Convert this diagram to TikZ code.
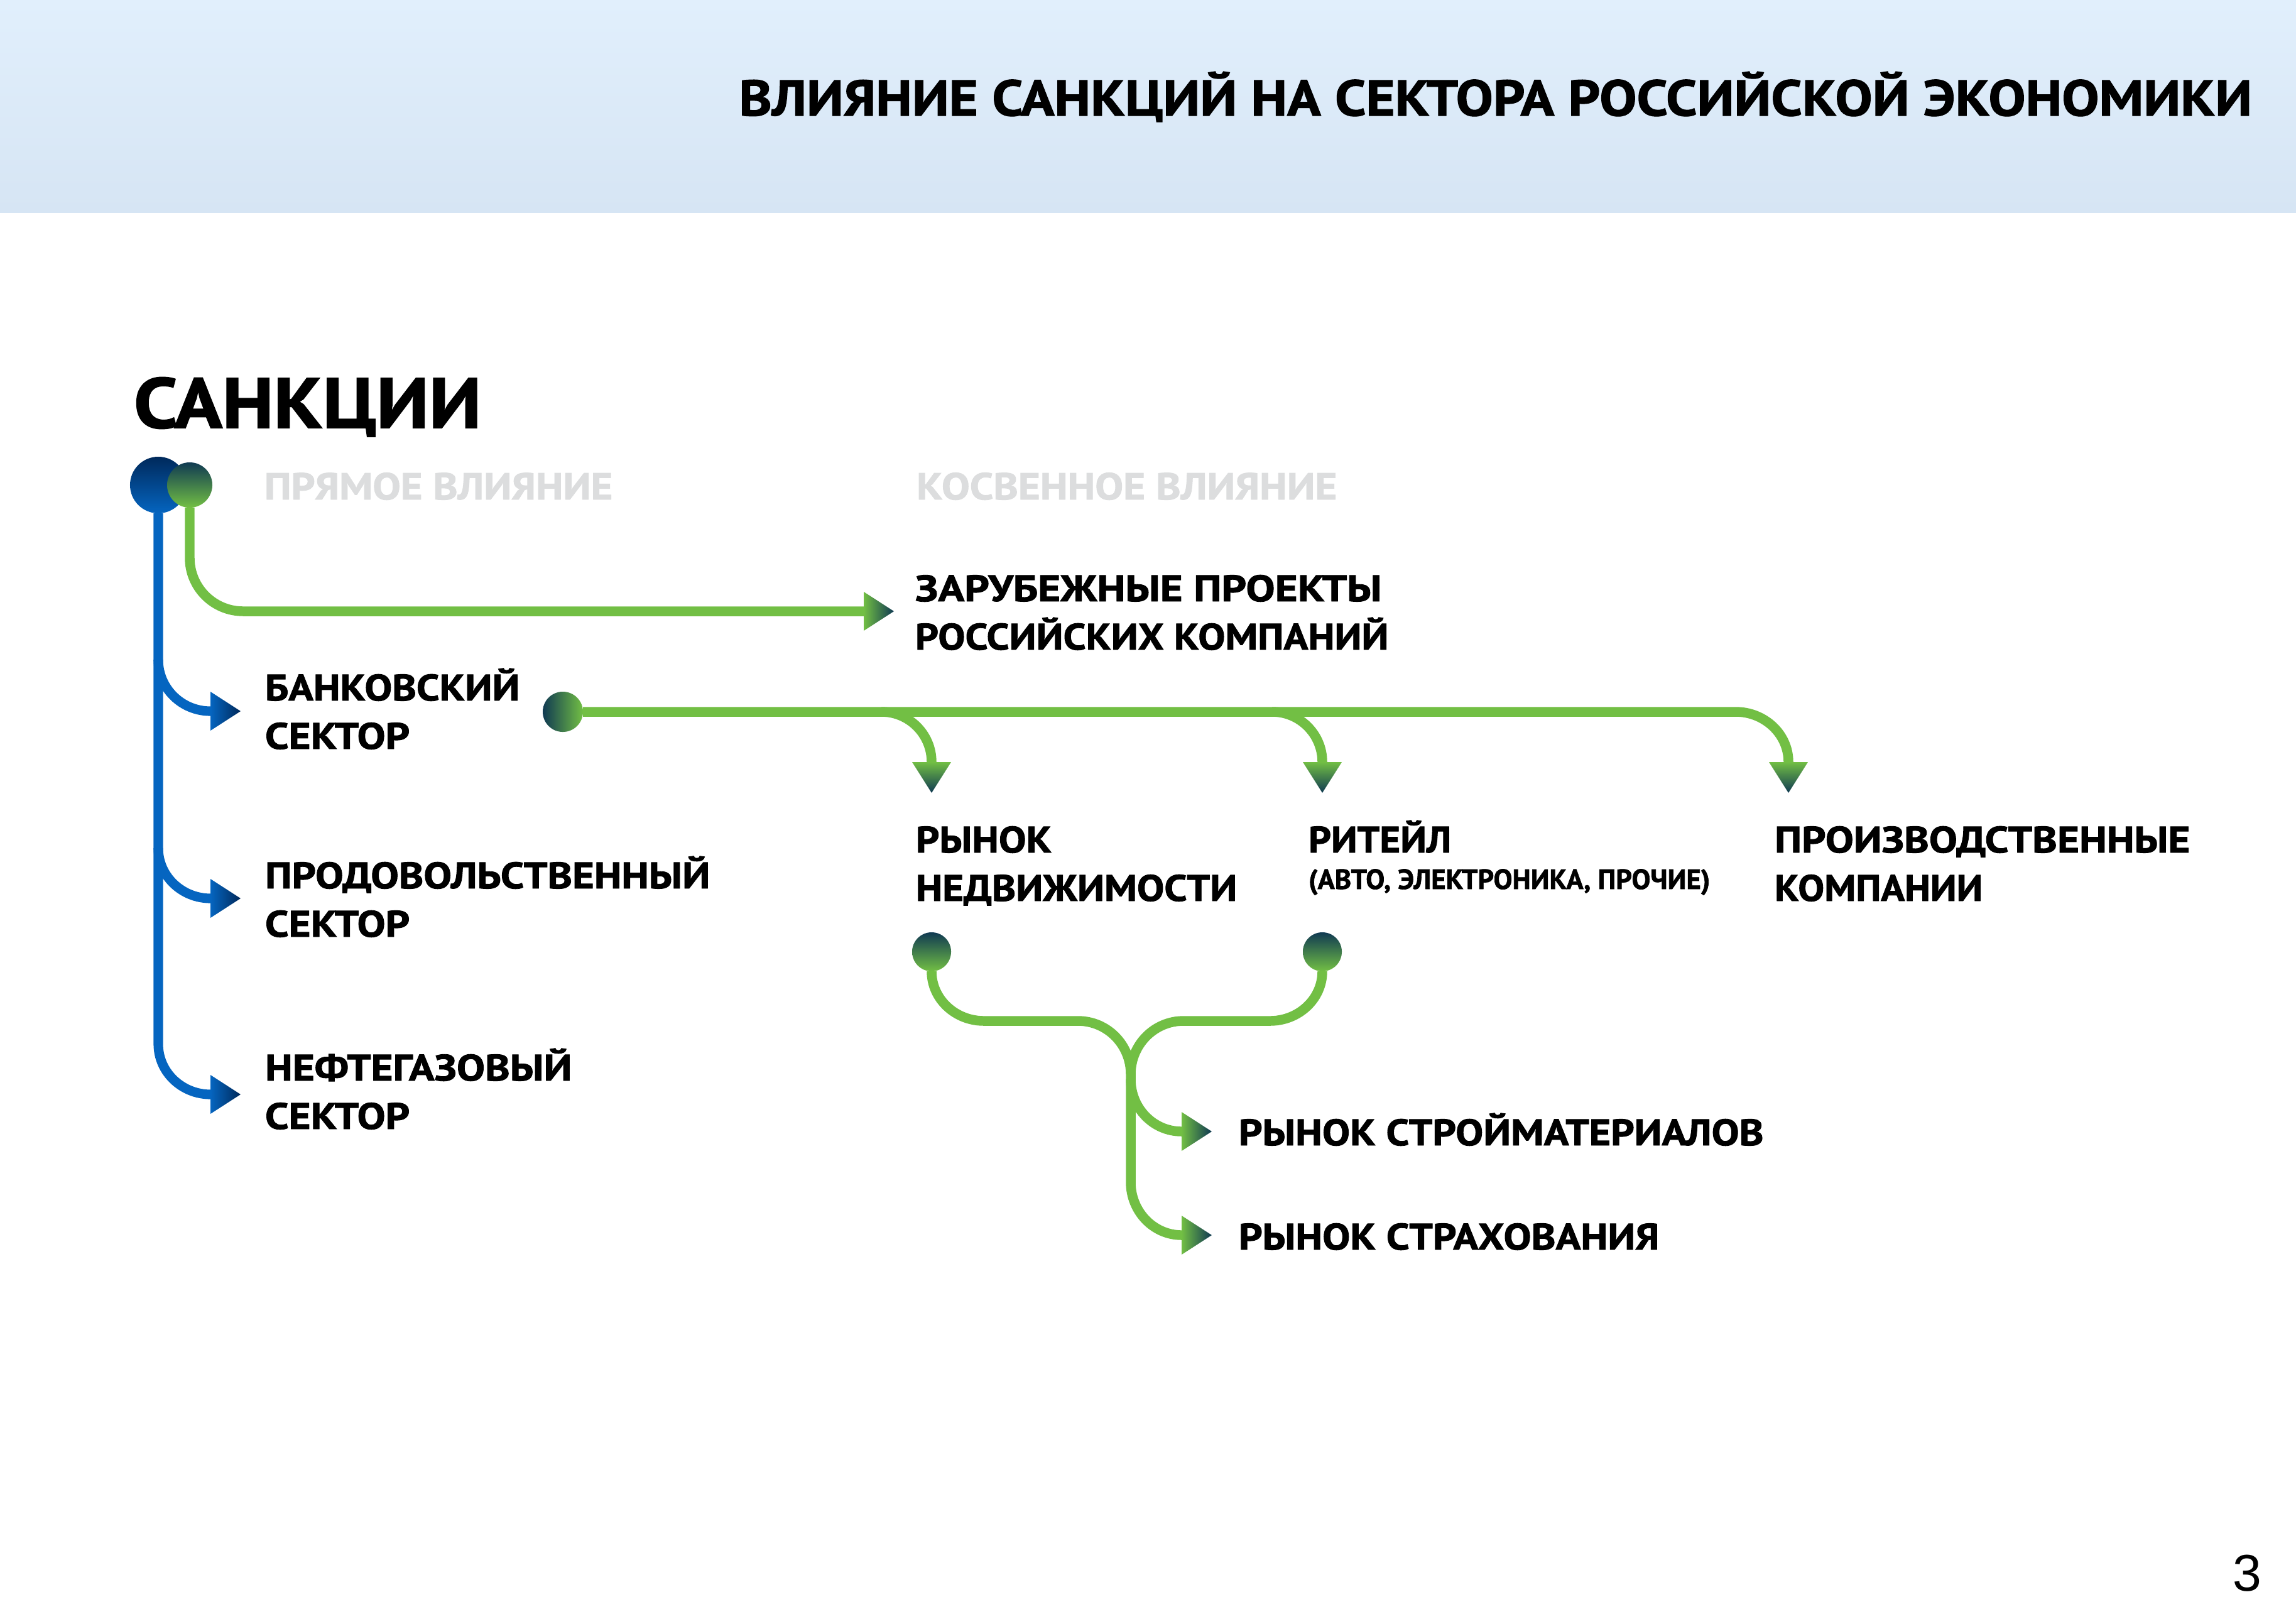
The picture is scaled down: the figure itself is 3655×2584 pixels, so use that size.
\documentclass[tikz,border=0pt]{standalone}
\usepackage{fontspec}
\setmainfont{PT Sans}[BoldFeatures={FakeBold=1.5}]
\newfontfamily\numfont{Liberation Sans}
\usepackage{graphicx}
\definecolor{gr}{HTML}{72BF44}
\definecolor{dk}{HTML}{103A52}
\definecolor{bl}{HTML}{0565C0}
\definecolor{nv}{HTML}{00295B}
\definecolor{gy}{HTML}{DCDDDE}
\definecolor{hTop}{HTML}{E1EFFC}
\definecolor{hBot}{HTML}{D6E5F4}
\newsavebox\fitbox
\newcommand\fitw[2]{\sbox\fitbox{#2}\edef\fitwd{\the\wd\fitbox}\pgfmathsetmacro\fsx{#1*0.284528/\fitwd}\scalebox{\fsx}[1]{\usebox\fitbox}}
\newcommand\twol[4]{\vtop{\baselineskip=21.9pt\lineskiplimit=-100pt\lineskip=0pt\hbox{\fitw{#1}{#2}}\hbox{\fitw{#3}{#4}}}}
\newcommand\arrR[3]{\shade[left color=#2,right color=#3] (#1) ++(0,-31) -- ++(48,31) -- ++(-48,31) -- cycle;}
\newcommand\arrD[1]{\shade[top color=gr,bottom color=dk] (#1) ++(-31,0) -- ++(31,49) -- ++(31,-49) -- cycle;}
\tikzset{
  lbl/.style={anchor=base west, inner sep=0pt, outer sep=0pt, font=\bfseries\fontsize{16.7}{20}\selectfont},
  glbl/.style={lbl, text=gy, font=\bfseries\fontsize{17}{20}\selectfont},
  gline/.style={draw=gr, line width=4.4pt},
  bline/.style={draw=bl, line width=4.3pt},
  dot/.style={circle, inner sep=0pt, outer sep=0pt},
}
\begin{document}
\begin{tikzpicture}[x=0.01cm, y=-0.01cm]
\useasboundingbox (0,0) rectangle (3655,2584);
\fill[white] (0,0) rectangle (3655,2584);
\shade[top color=hTop, bottom color=hBot] (0,0) rectangle (3655,338);
\node[lbl, anchor=base east, font=\bfseries\fontsize{22.8}{26}\selectfont] (title) at (3585,184) {\fitw{2407}{ВЛИЯНИЕ САНКЦИЙ НА СЕКТОРА РОССИЙСКОЙ ЭКОНОМИКИ}};
\node[lbl, font=\bfseries\fontsize{32.1}{36}\selectfont] (sank) at (213,681) {\fitw{553}{САНКЦИИ}};
\node[glbl] (direct) at (421,795) {\fitw{554}{ПРЯМОЕ ВЛИЯНИЕ}};
\node[glbl] (indirect) at (1459,795) {\fitw{669}{КОСВЕННОЕ ВЛИЯНИЕ}};

% circles
\node[dot, minimum size=0.9cm, top color=nv, bottom color=bl] (bC0) at (252,772) {};
\node[dot, minimum size=0.72cm, top color=dk, bottom color=gr] (gC) at (302,772) {};
\node[dot, minimum size=0.64cm, left color=dk, right color=gr] (bkC) at (896,1133) {};
\node[dot, minimum size=0.62cm, top color=dk, bottom color=gr] (c1) at (1483,1515) {};
\node[dot, minimum size=0.62cm, top color=dk, bottom color=gr] (c2) at (2105,1515) {};

% arrow anchors
\coordinate (aZ) at (1375,973);
\coordinate (aB) at (335,1132);
\coordinate (aP) at (335,1430);
\coordinate (aN) at (335,1742);
\coordinate (aR) at (1483,1213);
\coordinate (aT) at (2105,1213);
\coordinate (aK) at (2847,1213);
\coordinate (aS1) at (1881,1801);
\coordinate (aS2) at (1881,1966);

% blue connectors
\draw[bline] (bC0.south) -- (252,1662) to[out=-90,in=180] (aN);
\draw[bline] (252,1050) to[out=-90,in=180] (aB);
\draw[bline] (252,1350) to[out=-90,in=180] (aP);
\arrR{aB}{bl}{nv}
\arrR{aP}{bl}{nv}
\arrR{aN}{bl}{nv}

% green connectors
\draw[gline] (gC.south) -- (302,888) to[out=-90,in=180] (387,973) -- (aZ);
\arrR{aZ}{gr}{dk}
\draw[gline] (bkC.east) -- (2763,1133) to[out=0,in=90] (aK);
\draw[gline] (1403,1133) to[out=0,in=90] (aR);
\draw[gline] (2025,1133) to[out=0,in=90] (aT);
\arrD{aR}
\arrD{aT}
\arrD{aK}

\draw[gline] (c1.south) to[out=-90,in=180] (1566,1625) -- (1716,1625) to[out=0,in=90] (1800,1710) -- (1800,1882) to[out=-90,in=180] (aS2);
\draw[gline] (c2.south) to[out=-90,in=0] (2022,1625) -- (1884,1625) to[out=180,in=90] (1800,1710);
\draw[gline] (1800,1718) to[out=-90,in=180] (aS1);
\arrR{aS1}{gr}{dk}
\arrR{aS2}{gr}{dk}

% labels
\node[lbl] (zar) at (1457,957) {\twol{742}{ЗАРУБЕЖНЫЕ ПРОЕКТЫ}{753}{РОССИЙСКИХ КОМПАНИЙ}};
\node[lbl] (bank) at (422,1115) {\twol{405}{БАНКОВСКИЙ}{230}{СЕКТОР}};
\node[lbl] (food) at (422,1414) {\twol{708}{ПРОДОВОЛЬСТВЕННЫЙ}{230}{СЕКТОР}};
\node[lbl] (oil) at (422,1720) {\twol{488}{НЕФТЕГАЗОВЫЙ}{230}{СЕКТОР}};
\node[lbl] (real) at (1458,1357) {\twol{216}{РЫНОК}{511}{НЕДВИЖИМОСТИ}};
\node[lbl] (ret) at (2083,1357) {\vtop{\baselineskip=16.5pt\lineskiplimit=-100pt\lineskip=0pt\hbox{\fitw{227}{РИТЕЙЛ}}\hbox{\fontsize{12.6}{14}\selectfont\fitw{639}{(АВТО, ЭЛЕКТРОНИКА, ПРОЧИЕ)}}}};
\node[lbl] (prod) at (2825,1357) {\twol{661}{ПРОИЗВОДСТВЕННЫЕ}{331}{КОМПАНИИ}};
\node[lbl] (build) at (1972,1823) {\fitw{835}{РЫНОК СТРОЙМАТЕРИАЛОВ}};
\node[lbl] (ins) at (1972,1989) {\fitw{669}{РЫНОК СТРАХОВАНИЯ}};

\node[anchor=base, inner sep=0pt, font=\numfont\fontsize{23.4}{26}\selectfont] (pg) at (3577,2532) {3};
\end{tikzpicture}
\end{document}
